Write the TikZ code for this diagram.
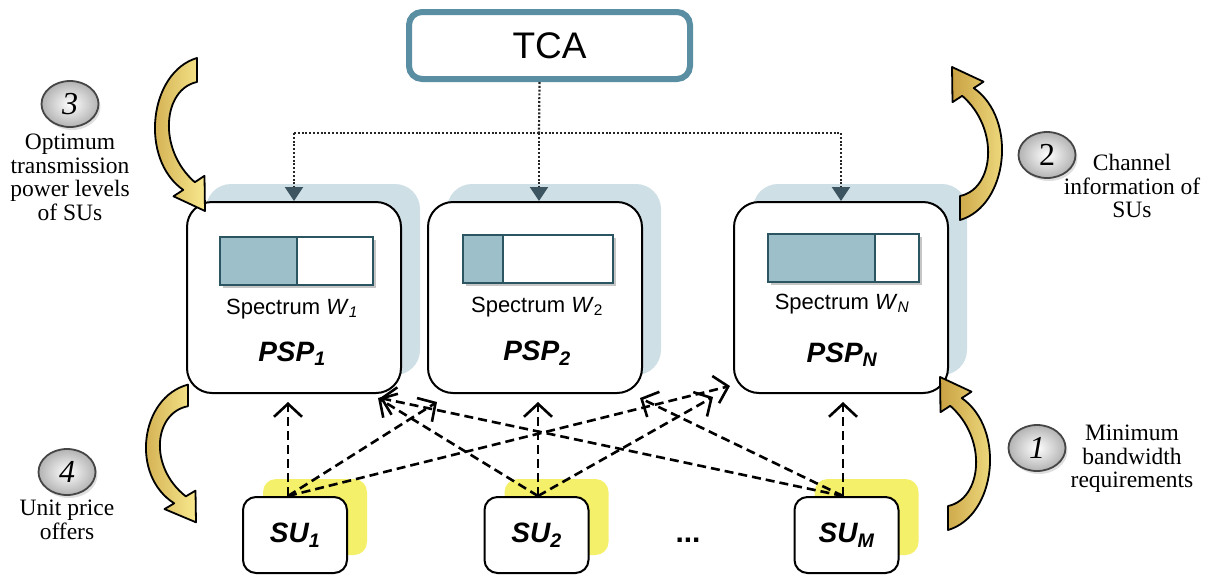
\documentclass[tikz,border=0pt]{standalone}
\usepackage{fontspec}
\setmainfont{Liberation Serif}
\newfontfamily\arialfont{Liberation Sans}
\usetikzlibrary{arrows.meta,shadows,shapes.geometric,positioning}

\definecolor{tcablue}{HTML}{5A8EA2}
\definecolor{shadowblue}{HTML}{CFDFE6}
\definecolor{barfill}{HTML}{9CBFCA}
\definecolor{bardraw}{HTML}{2C5562}
\definecolor{headgray}{HTML}{3D5560}
\definecolor{suyellow}{HTML}{F5F06A}
\definecolor{golddark}{HTML}{C9A243}
\definecolor{goldlight}{HTML}{F8E88E}

\tikzset{
  tcabox/.style={draw=tcablue,line width=6pt,rounded corners=13pt,fill=white,minimum width=281pt,minimum height=67pt,font=\arialfont\fontsize{37}{37}\selectfont},
  pspbox/.style={draw,line width=2pt,rounded corners=25pt,fill=white,minimum width=214pt,minimum height=191pt,general shadow={fill=shadowblue,shadow xshift=19pt,shadow yshift=18pt}},
  subox/.style={draw,line width=2pt,rounded corners=13pt,fill=white,minimum width=104pt,minimum height=76pt,font=\arialfont\bfseries\itshape\fontsize{28}{28}\selectfont,general shadow={fill=suyellow,shadow xshift=20pt,shadow yshift=18pt}},
  spectext/.style={anchor=base,font=\arialfont\fontsize{22}{22}\selectfont},
  pspname/.style={anchor=base,font=\arialfont\bfseries\itshape\fontsize{28}{28}\selectfont},
  dotline/.style={black!85,line width=2.2pt,dash pattern=on 2pt off 1.8pt},
  dotarrow/.style={dotline,-{Triangle[length=14pt,width=18pt,color=headgray]}},
  bidline/.style={line width=2.6pt,dash pattern=on 9pt off 5pt,-{Straight Barb[length=13pt,width=28pt]}},
  numball/.style={ellipse,draw=gray!55!black,line width=1.8pt,inner color=white,outer color=gray!60,minimum width=57pt,minimum height=46pt,inner sep=0pt,font=\fontsize{32}{32}\selectfont\itshape,drop shadow={shadow xshift=2pt,shadow yshift=-3pt,fill=gray!50}},
  desc/.style={align=center,inner sep=0pt,font=\fontsize{23.5}{23.5}\selectfont},
  bentarrow/.style={draw=black,line width=1.8pt,line join=round,left color=golddark,right color=goldlight},
}

\newcommand{\bentshape}{%
  \draw[bentarrow] (0,-76) .. controls (-48,-62) and (-58,25) .. (-13.8,55.9) -- (-23.5,62.3) -- (8,77) -- (7.5,41.8) -- (-2.2,48.2) .. controls (-40,15) and (-34,-45) .. (0,-52) -- cycle;}

\begin{document}
\begin{tikzpicture}[x=1pt,y=-1pt]
\useasboundingbox (0,0) rectangle (1212,576);

\node[tcabox] (tca) at (549.5,45.5) {TCA};
\node[pspbox] (psp1) at (294,297.5) {};
\node[pspbox] (psp2) at (535,297.5) {};
\node[pspbox] (pspn) at (841,297.5) {};

% spectrum bars
\foreach \l/\d/\r/\t in {220/297/373/237,463/503/613/235,768/875/919/234}{
  \fill[gray!45] (\l+3,\t+3) rectangle (\r+3,\t+51);
  \filldraw[fill=barfill,draw=bardraw,line width=2.2pt] (\l,\t) rectangle (\d,\t+48);
  \filldraw[fill=white,draw=bardraw,line width=2.2pt] (\d,\t) rectangle (\r,\t+48);
}
\node[spectext] at (292,314) {Spectrum \textit{W}\textsubscript{\textit{1}}};
\node[spectext] at (537,312) {Spectrum \textit{W}\textsubscript{2}};
\node[spectext] at (842,309) {Spectrum \textit{W}\textsubscript{\textit{N}}};
\node[pspname] at (292,361) {PSP\textsubscript{1}};
\node[pspname] at (537,360) {PSP\textsubscript{2}};
\node[pspname] at (842,362) {PSP\textsubscript{N}};

\node[subox] (su1) at (295,535) {SU\textsubscript{1}};
\node[subox] (su2) at (536.5,535) {SU\textsubscript{2}};
\node[subox] (sum) at (846.5,535) {SU\textsubscript{M}};
\node[font=\arialfont\bfseries\fontsize{30}{30}\selectfont] (dots) at (688,540) {...};

% TCA to PSPs
\coordinate (hub) at (539,133);
\draw[dotline] ([xshift=-10pt]tca.south) -- (hub);
\draw[dotline] (psp1.north |- hub) -- (pspn.north |- hub);
\draw[dotarrow] (psp1.north |- hub) -- (psp1.north);
\draw[dotarrow] (hub) -- (hub |- psp2.north);
\draw[dotarrow] (pspn.north |- hub) -- (pspn.north);

% SUs to PSPs
\coordinate (t11) at (288,402);
\coordinate (t12) at (437,402);
\coordinate (t1n) at (730,386);
\coordinate (t21) at (378,398);
\coordinate (t22) at (538,402);
\coordinate (t2n) at (713,397);
\coordinate (tm1) at (380,398);
\coordinate (tm2) at (640,398);
\coordinate (tmn) at (843,402);
\draw[bidline] ([xshift=-7pt]su1.north) -- (t11);
\draw[bidline] ([xshift=-7pt]su1.north) -- (t12);
\draw[bidline] ([xshift=-7pt]su1.north) -- (t1n);
\draw[bidline] ([xshift=1.5pt]su2.north) -- (t21);
\draw[bidline] ([xshift=1.5pt]su2.north) -- (t22);
\draw[bidline] ([xshift=1.5pt]su2.north) -- (t2n);
\draw[bidline] ([xshift=-3.5pt]sum.north) -- (tm1);
\draw[bidline] ([xshift=-3.5pt]sum.north) -- (tm2);
\draw[bidline] ([xshift=-3.5pt]sum.north) -- (tmn);

% steps
\begin{scope}[shift={(197,134)}] \bentshape \end{scope}
\begin{scope}[shift={(188,453)},yscale=0.9] \bentshape \end{scope}
\begin{scope}[shift={(960,144)},xscale=-1,yscale=-1] \bentshape \end{scope}
\begin{scope}[shift={(948,454)},xscale=-1,yscale=-1] \bentshape \end{scope}

\node[numball] (n3) at (70,104) {3};
\node[desc,below=6pt of n3] (d3) {Optimum\\transmission\\power levels\\of SUs};
\node[numball] (n2) at (1047,155) {\upshape 2};
\node[desc] (d2) at (1132,186) {Channel\\information of\\SUs};
\node[numball] (n4) at (67,472) {4};
\node[desc,below=4pt of n4] (d4) {Unit price\\offers};
\node[numball] (n1) at (1037,448) {1};
\node[desc] (d1) at (1132,459) {Minimum\\bandwidth\\requirements};
\end{tikzpicture}
\end{document}
